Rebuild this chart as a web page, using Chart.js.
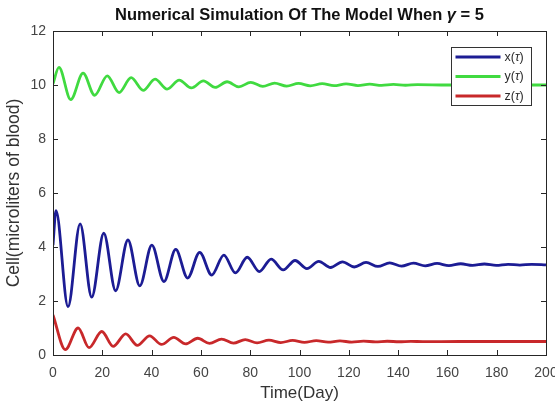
<!DOCTYPE html>
<html>
<head>
<meta charset="utf-8">
<script src="https://cdn.jsdelivr.net/npm/chart.js@4.4.1/dist/chart.umd.min.js"></script>
<style>
  html, body { margin: 0; padding: 0; background: #fff; }
  #wrap { width: 555px; height: 402px; }
</style>
</head>
<body>
<div id="wrap"><canvas id="simChart" width="555" height="402"></canvas></div>
<script>
// values: turning points of each trajectory
const xTime = [0, 1.2, 6.1, 11.0, 15.7, 20.6, 25.4, 30.4, 35.2, 40.1, 45.0, 49.8, 54.6, 59.5, 64.4, 69.3, 74.0, 78.8, 83.7, 88.5, 93.4, 98.2, 103.0, 107.8, 112.6, 117.4, 122.2, 127.0, 131.8, 136.6, 141.4, 146.2, 151.0, 155.8, 160.6, 165.4, 170.2, 175.0, 179.8, 184.6, 189.4, 194.2, 200];
const xCells = [4.07, 5.35, 1.79, 4.86, 2.14, 4.51, 2.38, 4.26, 2.56, 4.07, 2.72, 3.91, 2.85, 3.80, 2.96, 3.70, 3.04, 3.62, 3.09, 3.55, 3.15, 3.50, 3.20, 3.47, 3.24, 3.45, 3.26, 3.43, 3.28, 3.41, 3.29, 3.40, 3.30, 3.39, 3.31, 3.38, 3.32, 3.37, 3.32, 3.36, 3.33, 3.36, 3.34];

const yTime = [0, 2.4, 7.2, 12.2, 16.9, 22.0, 26.8, 31.7, 36.6, 41.4, 46.3, 51.2, 56.1, 61.0, 65.8, 70.6, 75.4, 80.2, 85.1, 89.9, 94.8, 99.6, 104.4, 109.2, 114.0, 118.9, 123.7, 128.5, 133.3, 138.1, 143.0, 147.8, 160, 180, 200];
const yCells = [10.05, 10.65, 9.46, 10.44, 9.62, 10.34, 9.72, 10.27, 9.80, 10.22, 9.85, 10.18, 9.89, 10.15, 9.91, 10.12, 9.93, 10.10, 9.95, 10.07, 9.96, 10.06, 9.97, 10.05, 9.975, 10.04, 9.98, 10.03, 9.985, 10.02, 9.99, 10.015, 10.0, 10.0, 10.0];

const zTime = [0, 5.0, 10.2, 14.6, 19.8, 24.4, 29.5, 34.2, 39.2, 44.0, 49.0, 53.8, 58.7, 63.5, 68.4, 73.2, 78.0, 82.8, 87.6, 92.4, 97.2, 102.0, 106.8, 111.6, 116.4, 121.2, 126.0, 130.8, 135.6, 140.4, 145.2, 150.0, 165.0, 180.0, 200];
const zCells = [1.48, 0.20, 1.00, 0.27, 0.87, 0.32, 0.78, 0.36, 0.71, 0.39, 0.65, 0.41, 0.62, 0.43, 0.59, 0.44, 0.57, 0.45, 0.55, 0.46, 0.54, 0.47, 0.53, 0.475, 0.52, 0.48, 0.515, 0.485, 0.51, 0.49, 0.505, 0.495, 0.5, 0.5, 0.5];

const seriesNames = ['x(τ)', 'y(τ)', 'z(τ)'];
const dayTicks = [0, 20, 40, 60, 80, 100, 120, 140, 160, 180, 200];
const cellTicks = [0, 2, 4, 6, 8, 10, 12];

const FONT = 'Liberation Sans, Arial, Helvetica, sans-serif';

const toPoints = (ts, vs) => ts.map((t, i) => ({ x: t, y: vs[i] }));

// draws text where greek letters are set in italics (like matlab's tex)
function drawMixed(ctx, str, x, y, size, weight, align) {
    const parts = str.split(/([τγ])/).filter(p => p.length);
    const fontFor = p => (/[τγ]/.test(p) ? 'italic ' : '') + weight + ' ' + size + 'px ' + FONT;
    let total = 0;
    parts.forEach(p => { ctx.font = fontFor(p); total += ctx.measureText(p).width; });
    let cx = align === 'center' ? x - total / 2 : x;
    ctx.textAlign = 'left';
    ctx.textBaseline = 'middle';
    parts.forEach(p => {
        ctx.font = fontFor(p);
        ctx.fillText(p, cx, y);
        cx += ctx.measureText(p).width;
    });
}

// box around the axes with inward ticks on all four sides
const framePlugin = {
    id: 'frame',
    afterDatasetsDraw(chart) {
        const { ctx, chartArea: a, scales } = chart;
        ctx.save();
        ctx.strokeStyle = '#262626';
        ctx.lineWidth = 1;
        ctx.beginPath();
        scales.x.ticks.forEach(t => {
            const px = Math.round(scales.x.getPixelForValue(t.value)) + 0.5;
            ctx.moveTo(px, a.bottom); ctx.lineTo(px, a.bottom - 5);
            ctx.moveTo(px, a.top); ctx.lineTo(px, a.top + 5);
        });
        scales.y.ticks.forEach(t => {
            const py = Math.round(scales.y.getPixelForValue(t.value)) + 0.5;
            ctx.moveTo(a.left, py); ctx.lineTo(a.left + 5, py);
            ctx.moveTo(a.right, py); ctx.lineTo(a.right - 5, py);
        });
        ctx.stroke();
        ctx.strokeRect(Math.round(a.left) + 0.5, Math.round(a.top) + 0.5,
            Math.round(a.right - a.left), Math.round(a.bottom - a.top));
        ctx.restore();
    },
    afterDraw(chart) {
        const { ctx, chartArea: a } = chart;
        ctx.save();
        ctx.fillStyle = '#111';
        drawMixed(ctx, 'Numerical Simulation Of The Model When γ = 5', (a.left + a.right) / 2, 15, 16.5, 'bold', 'center');

        // legend box, top right inside the axes
        const bw = 80, bh = 58;
        const bx = Math.round(a.right - 15 - bw) + 0.5;
        const by = Math.round(a.top + 16) + 0.5;
        ctx.fillStyle = '#fff';
        ctx.fillRect(bx, by, bw, bh);
        ctx.strokeStyle = '#333';
        ctx.lineWidth = 1;
        ctx.strokeRect(bx, by, bw, bh);
        chart.data.datasets.forEach((ds, i) => {
            const ly = by + 9.5 + i * 19.5;
            ctx.strokeStyle = ds.borderColor;
            ctx.lineWidth = 3;
            ctx.beginPath();
            ctx.moveTo(bx + 4, ly);
            ctx.lineTo(bx + 49, ly);
            ctx.stroke();
            ctx.fillStyle = '#2a2a2a';
            drawMixed(ctx, ds.label, bx + 53, ly + 0.5, 12.5, 'normal', 'left');
        });
        ctx.restore();
    }
};

const ctxLine = document.getElementById('simChart').getContext('2d');
new Chart(ctxLine, {
    type: 'line',
    data: {
        datasets: [
            { label: seriesNames[0], data: toPoints(xTime, xCells), borderColor: '#1c1c94' },
            { label: seriesNames[1], data: toPoints(yTime, yCells), borderColor: '#40da40' },
            { label: seriesNames[2], data: toPoints(zTime, zCells), borderColor: '#c8282a' }
        ]
    },
    options: {
        responsive: false,
        animation: false,
        layout: { padding: { top: 31, right: 9, left: 0, bottom: 0 } },
        elements: {
            point: { radius: 0 },
            line: { borderWidth: 2.8, cubicInterpolationMode: 'monotone', fill: false }
        },
        plugins: {
            legend: { display: false },
            title: { display: false },
            tooltip: { enabled: false }
        },
        scales: {
            x: {
                type: 'linear',
                min: 0,
                max: 200,
                afterBuildTicks: s => { s.ticks = dayTicks.map(v => ({ value: v })); },
                afterFit: s => { s.height = 47; s.paddingLeft = 0; s.paddingRight = 0; },
                grid: { display: false, drawTicks: false },
                border: { display: false },
                ticks: { padding: 10, maxRotation: 0, autoSkip: false, color: '#444', font: { family: FONT, size: 14 } },
                title: { display: true, text: 'Time(Day)', color: '#333', padding: { top: 0, bottom: -2 }, font: { family: FONT, size: 17 } }
            },
            y: {
                type: 'linear',
                min: 0,
                max: 12,
                afterBuildTicks: s => { s.ticks = cellTicks.map(v => ({ value: v })); },
                afterFit: s => { s.width = 53; s.paddingTop = 0; s.paddingBottom = 0; },
                grid: { display: false, drawTicks: false },
                border: { display: false },
                ticks: { padding: 7, autoSkip: false, color: '#444', font: { family: FONT, size: 14 } },
                title: { display: true, text: 'Cell(microliters of blood)', color: '#333', padding: { top: 4, bottom: 0 }, font: { family: FONT, size: 17.5 } }
            }
        }
    },
    plugins: [framePlugin]
});
</script>
</body>
</html>
